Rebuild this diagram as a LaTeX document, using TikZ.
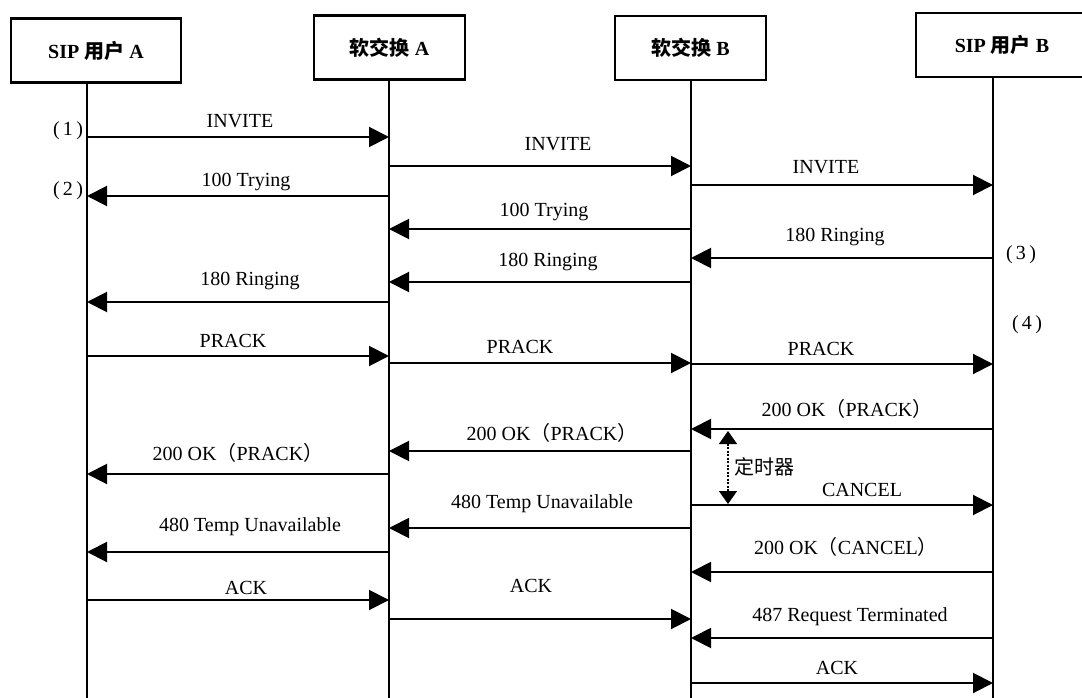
\documentclass[tikz,border=0pt]{standalone}
\usepackage{fontspec}
\setmainfont{Liberation Serif}
\newfontfamily\cjk{Noto Sans CJK SC}
\usetikzlibrary{arrows.meta,positioning}

\tikzset{
  box/.style={draw, line width=2.4pt, minimum height=64pt, inner sep=0pt,
    font=\bfseries\fontsize{20}{24}\selectfont},
  life/.style={line width=1.8pt},
  msg/.style={line width=2pt, -{Triangle[length=20pt,width=20pt]}},
  lbl/.style={inner sep=0pt, font=\fontsize{20}{24}\selectfont},
  timer/.style={line width=1.2pt, dash pattern=on 2pt off 1.5pt,
    {Triangle[length=13pt,width=18pt]}-{Triangle[length=13pt,width=18pt]}}
}

\begin{document}
\begin{tikzpicture}[x=1pt,y=-1pt]
        \useasboundingbox (0,0) rectangle (1082,698);
        % entities
        \node[box, minimum width=170pt] (ua) at (96,50.5) {SIP {\cjk 用户} A};
        \node[box, minimum width=151pt] (sa) at (389.5,47.5) {{\cjk 软交换} A};
        \node[box, minimum width=151pt] (sb) at (690.5,48) {{\cjk 软交换} B};
        \node[box, minimum width=172pt] (ub) at (1002,45) {SIP {\cjk 用户} B};
        % lifelines
        \coordinate (la) at (87,700);
        \coordinate (lsa) at (389,700);
        \coordinate (lsb) at (691,700);
        \coordinate (lub) at (993,700);
        \draw[life] (ua.south -| la) -- (la);
        \draw[life] (sa.south -| lsa) -- (lsa);
        \draw[life] (sb.south -| lsb) -- (lsb);
        \draw[life] (ub.south -| lub) -- (lub);
        % steps
        \node[lbl] (s1) at (68,131) {(\,1\,)};
        \node[lbl] (s2) at (68,191) {(\,2\,)};
        \node[lbl] (s3) at (1021,255) {(\,3\,)};
        \node[lbl] (s4) at (1027,325) {(\,4\,)};
        % invite
        \draw[msg] (la |- 0,137) -- (lsa |- 0,137);
        \node[lbl] (m1) at (240,121) {INVITE};
        \draw[msg] (lsa |- 0,166) -- (lsb |- 0,166);
        \node[lbl] (m2) at (558,144) {INVITE};
        \draw[msg] (lsa |- 0,196) -- (la |- 0,196);
        \node[lbl] (m3) at (246,182) {100 Trying};
        \draw[msg] (lsb |- 0,185) -- (lub |- 0,185);
        \node[lbl] (m4) at (826,167) {INVITE};
        \draw[msg] (lsb |- 0,229) -- (lsa |- 0,229);
        \node[lbl] (m5) at (544,212) {100 Trying};
        % ringing
        \draw[msg] (lub |- 0,258) -- (lsb |- 0,258);
        \node[lbl] (m6) at (835,237) {180 Ringing};
        \draw[msg] (lsb |- 0,282) -- (lsa |- 0,282);
        \node[lbl] (m7) at (548,262) {180 Ringing};
        \draw[msg] (lsa |- 0,302) -- (la |- 0,302);
        \node[lbl] (m8) at (250,281) {180 Ringing};
        % prack
        \draw[msg] (la |- 0,356) -- (lsa |- 0,356);
        \node[lbl] (m9) at (233,341) {PRACK};
        \draw[msg] (lsa |- 0,363) -- (lsb |- 0,363);
        \node[lbl] (m10) at (520,347) {PRACK};
        \draw[msg] (lsb |- 0,364) -- (lub |- 0,364);
        \node[lbl] (m11) at (821,349) {PRACK};
        \draw[msg] (lub |- 0,429) -- (lsb |- 0,429);
        \node[lbl] (m12) at (847,409) {200 OK{\cjk （}PRACK{\cjk ）}};
        \draw[msg] (lsb |- 0,451) -- (lsa |- 0,451);
        \node[lbl] (m13) at (552,433) {200 OK{\cjk （}PRACK{\cjk ）}};
        \draw[msg] (lsa |- 0,474) -- (la |- 0,474);
        \node[lbl] (m14) at (238,453) {200 OK{\cjk （}PRACK{\cjk ）}};
        % timer
        \coordinate (t1) at (728,431);
        \coordinate (t2) at (728,504);
        \draw[timer] (t1) -- (t2);
        \node[lbl, anchor=west] (tm) at (734,467) {\cjk 定时器};
        % cancel
        \draw[msg] (lsb |- 0,505) -- (lub |- 0,505);
        \node[lbl] (m15) at (862,490) {CANCEL};
        \draw[msg] (lsb |- 0,528) -- (lsa |- 0,528);
        \node[lbl] (m16) at (542,504) {480 Temp Unavailable};
        \draw[msg] (lsa |- 0,552) -- (la |- 0,552);
        \node[lbl] (m17) at (250,527) {480 Temp Unavailable};
        \draw[msg] (lub |- 0,572) -- (lsb |- 0,572);
        \node[lbl] (m18) at (846,547) {200 OK{\cjk （}CANCEL{\cjk ）}};
        % ack
        \draw[msg] (la |- 0,600) -- (lsa |- 0,600);
        \node[lbl] (m19) at (246,588) {ACK};
        \draw[msg] (lsa |- 0,619) -- (lsb |- 0,619);
        \node[lbl] (m20) at (531,586) {ACK};
        \draw[msg] (lub |- 0,638) -- (lsb |- 0,638);
        \node[lbl] (m21) at (850,617) {487 Request Terminated};
        \draw[msg] (lsb |- 0,683) -- (lub |- 0,683);
        \node[lbl] (m22) at (837,668) {ACK};
\end{tikzpicture}
\end{document}
